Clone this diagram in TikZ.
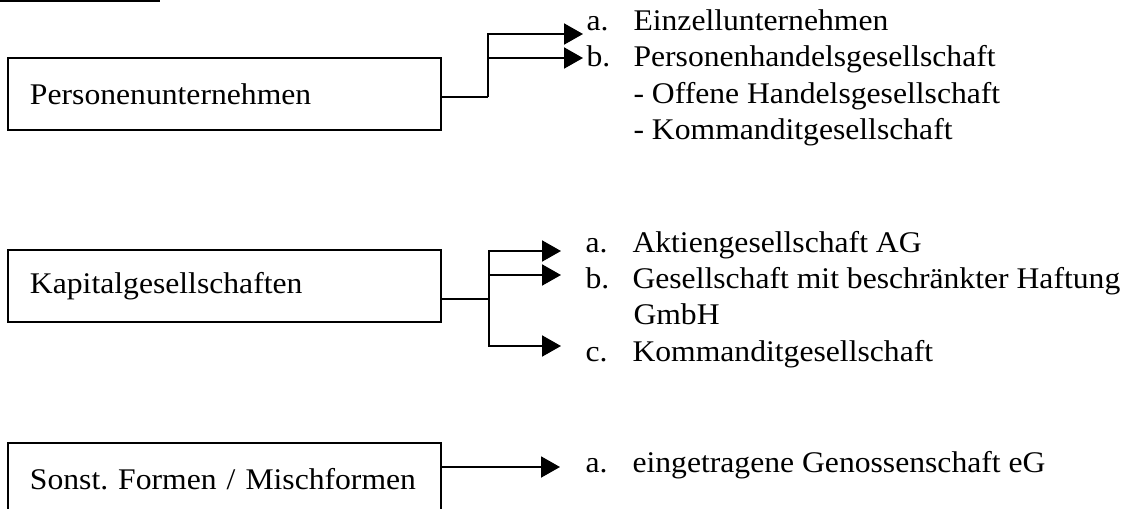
\documentclass[tikz,border=0pt]{standalone}
\usepackage{fontspec}
\setmainfont{Liberation Serif}[FakeStretch=1.055]
\usetikzlibrary{arrows.meta,calc}
\newcommand{\enumlbl}[1]{\makebox[18.8pt][l]{#1}}
\frenchspacing

\tikzset{
  formbox/.style={draw, line width=0.8pt, anchor=north west, outer sep=0pt,
    inner xsep=8.8pt, inner ysep=0pt, text width=155.6pt, align=left,
    minimum height=28.8pt, font=\fontsize{12pt}{14.4pt}\selectfont},
  entry/.style={anchor=base west, inner sep=0pt, font=\fontsize{12pt}{14.4pt}\selectfont},
  link/.style={line width=0.8pt},
  arr/.style={link, -{Triangle[length=7.6pt,width=8.4pt]}}
}

\begin{document}
\begin{tikzpicture}[x=0.4pt, y=-0.4pt]
\useasboundingbox (0,0) rectangle (1135,508);
\clip (0,0) rectangle (1135,508);
\draw[link] (0,1) -- (160,1);

% Personenunternehmen
\node[formbox] (pu) at (8,58) {Personenunternehmen};
\node[entry] (pu-a) at (586,30) {\enumlbl{a.}Einzellunternehmen};
\node[entry] (pu-b) at (586,66) {\enumlbl{b.}Personenhandelsgesellschaft};
\node[entry] (pu-b1) at (633,103) {- Offene Handelsgesellschaft};
\node[entry] (pu-b2) at (633,139) {- Kommanditgesellschaft};
\coordinate (pu-j) at ($(pu.east)+(47,3)$);
\coordinate (pu-a-in) at (583,34);
\coordinate (pu-b-in) at (583,58);
\draw[link] (pu.east |- pu-j) -- (pu-j);
\draw[arr] (pu-j) |- (pu-a-in);
\draw[arr] (pu-j |- pu-b-in) -- (pu-b-in);

% Kapitalgesellschaften
\node[formbox] (kg) at (8,250) {Kapitalgesellschaften};
\node[entry] (kg-a) at (585,252) {\enumlbl{a.}Aktiengesellschaft AG};
\node[entry] (kg-b) at (585,288) {\enumlbl{b.}Gesellschaft mit beschränkter Haftung};
\node[entry] (kg-b1) at (633,324) {GmbH};
\node[entry] (kg-c) at (585,361) {\enumlbl{c.}Kommanditgesellschaft};
\coordinate (kg-j) at ($(kg.east)+(48,13)$);
\coordinate (kg-a-in) at (561,251);
\coordinate (kg-b-in) at (561,275);
\coordinate (kg-c-in) at (561,346);
\draw[link] (kg.east |- kg-j) -- (kg-j);
\draw[arr] (kg-j) |- (kg-a-in);
\draw[arr] (kg-j |- kg-b-in) -- (kg-b-in);
\draw[arr] (kg-j) |- (kg-c-in);

% Sonstige Formen
\node[formbox] (sf) at (8,443) {Sonst. Formen / Mischformen};
\node[entry] (sf-a) at (585,472) {\enumlbl{a.}eingetragene Genossenschaft eG};
\coordinate (sf-a-in) at (560,467);
\draw[arr] (sf.east |- sf-a-in) -- (sf-a-in);
\end{tikzpicture}
\end{document}
